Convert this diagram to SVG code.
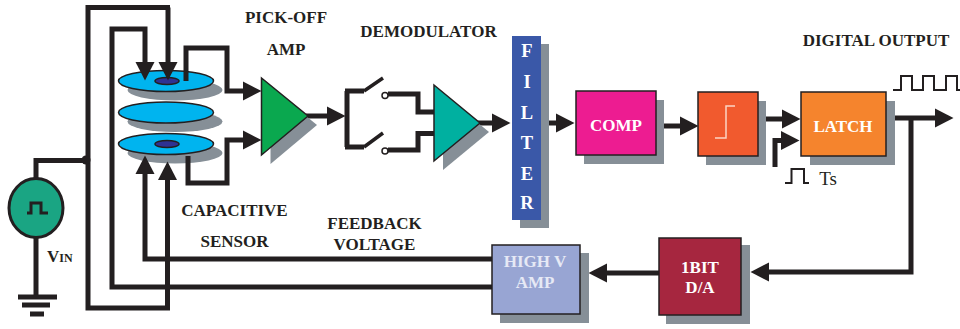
<svg xmlns="http://www.w3.org/2000/svg" width="960" height="329" viewBox="0 0 960 329">
<style>
.w{fill:none;stroke:#231f20;stroke-width:5;stroke-linejoin:miter}
.a{marker-end:url(#arr)}
.t{fill:none;stroke:#231f20;stroke-width:2}
.s{fill:#868f97}
.b{stroke:#231f20;stroke-width:1.5}
text{font-family:"Liberation Serif","Times New Roman",serif;font-weight:bold;font-size:17px;text-anchor:middle}
.l{fill:#231f20}
.i{fill:#fff}
.f{font-size:18.500px}
</style>
<defs>
<marker id="arr" markerUnits="userSpaceOnUse" markerWidth="19" markerHeight="20" refX="0" refY="10" orient="auto"><path d="M0,0.5L18.5,10L0,19.5Z" fill="#231f20"/></marker>
</defs>
<rect width="960" height="329" fill="#fff"/>
<g id="disks">
<ellipse class="s" cx="175" cy="90" rx="47.5" ry="10.5"/>
<ellipse class="s" cx="175" cy="121.5" rx="47.5" ry="10.5"/>
<ellipse class="s" cx="175" cy="153" rx="47.5" ry="10.5"/>
<ellipse cx="166" cy="81" rx="47.5" ry="10.5" fill="#00b4ef" class="b"/>
<ellipse cx="166" cy="112.5" rx="47.5" ry="10.5" fill="#00b4ef" class="b"/>
<ellipse cx="166" cy="144" rx="47.5" ry="10.5" fill="#00b4ef" class="b"/>
<ellipse cx="167" cy="81" rx="12" ry="3.5" fill="#2e3192" class="b"/>
<ellipse cx="167" cy="144" rx="12" ry="3.5" fill="#2e3192" class="b"/>
</g>
<g id="connectors">
<path class="w a" d="M168,7.500H88V308H167.500V180"/>
<path class="w" d="M88,7.500H170"/>
<path class="w a" d="M168,7.500V62"/>
<path class="w a" d="M492,287H112V29H145V62"/>
<path class="w a" d="M492,259H145V174"/>
<path class="w" d="M36,180V160.500H86"/>
<circle cx="86" cy="160" r="4.500" fill="#231f20"/>
<path class="w a" d="M186,81V48H227V91H243"/>
<path class="w a" d="M188,156V183H227V140H243"/>
<path class="w a" d="M306,116H327"/>
<path class="w" d="M347,91V147M345,91H364M345,147H364"/>
<path d="M364,91L383,78M364,147L383,133" fill="none" stroke="#231f20" stroke-width="3.500"/>
<circle cx="385" cy="95.500" r="3" fill="#fff" stroke="#231f20" stroke-width="1.500"/>
<circle cx="385" cy="151" r="3" fill="#fff" stroke="#231f20" stroke-width="1.500"/>
<path class="w" d="M388,94H418V112H434M388,150H418V133.500H434"/>
<path class="w a" d="M478,123H492"/>
<path class="w a" d="M541,123H556"/>
<path class="w a" d="M664,126H680"/>
<path class="w a" d="M766,119H782"/>
<path class="w a" d="M775,167V140.500H781"/>
<path class="w a" d="M894,118H935"/>
<path class="w a" d="M911,118V272H769"/>
<path class="w a" d="M659,273H607"/>
<path class="t" d="M785,183H791.500V169H804V183H809"/>
<path class="t" d="M893,90H901V76H912V90H923V76H934V90H946V76H957V90H960"/>
</g>
<g id="vin">
<ellipse cx="36" cy="208" rx="27" ry="29.500" fill="#1aa583" stroke="#231f20" stroke-width="3"/>
<path d="M27,213H31V203H41V213H48" fill="none" stroke="#231f20" stroke-width="3"/>
<path class="w" d="M36,237V296"/>
<path d="M18,297H57M22,305H50M30,314H44" fill="none" stroke="#231f20" stroke-width="5"/>
<text class="l" x="47" y="262" style="text-anchor:start">V<tspan font-size="12">IN</tspan></text>
</g>
<g id="pickoff-amp">
<path class="s" d="M270.500,87V164L317,125Z"/>
<path d="M261.500,78V155L308,116Z" fill="#0aa84f" class="b"/>
</g>
<g id="demod-amp">
<path class="s" d="M443,94V170L489,132Z"/>
<path d="M434,85V161L480,123Z" fill="#00b0a0" class="b"/>
</g>
<g id="filter">
<rect class="s" x="520" y="44" width="29" height="184"/>
<rect x="512" y="36" width="29" height="184" fill="#3a58a8"/>
<text class="i f" x="527" y="57">F</text>
<text class="i f" x="527" y="88">I</text>
<text class="i f" x="527" y="119">L</text>
<text class="i f" x="527" y="149">T</text>
<text class="i f" x="527" y="180">E</text>
<text class="i f" x="527" y="209">R</text>
</g>
<g id="comp">
<rect class="s" x="584" y="100" width="80" height="64"/>
<rect class="b" x="576" y="91" width="80" height="64" fill="#ed1c91"/>
<text class="i" x="616" y="131">COMP</text>
</g>
<g id="comparator-step">
<rect class="s" x="706" y="101" width="60" height="64"/>
<rect class="b" x="698" y="92" width="60" height="64" fill="#f15a2e"/>
<path d="M715,138H726V106H735" fill="none" stroke="#fbd5c5" stroke-width="1.500"/>
</g>
<g id="latch">
<rect class="s" x="810" y="101" width="85" height="64"/>
<rect class="b" x="801" y="92" width="85" height="64" fill="#f5842d"/>
<text class="i" x="843" y="132">LATCH</text>
</g>
<g id="high-v-amp">
<rect class="s" x="500" y="253" width="89" height="70"/>
<rect class="b" x="492" y="245" width="88" height="69" fill="#98a5d3"/>
<text x="535" y="267" fill="#e6e9f5">HIGH V</text>
<text x="535" y="288" fill="#e6e9f5">AMP</text>
</g>
<g id="dac">
<rect class="s" x="666" y="245" width="84" height="79"/>
<rect class="b" x="659" y="238" width="82" height="77" fill="#a6263f"/>
<text class="i" x="700" y="273">1BIT</text>
<text class="i" x="700" y="293">D/A</text>
</g>
<g id="labels">
<text class="l" x="286" y="23">PICK-OFF</text>
<text class="l" x="286" y="55">AMP</text>
<text class="l" x="428.500" y="37">DEMODULATOR</text>
<text class="l" x="876" y="46">DIGITAL OUTPUT</text>
<text class="l" x="234.500" y="216">CAPACITIVE</text>
<text class="l" x="234.500" y="247">SENSOR</text>
<text class="l" x="374.500" y="229">FEEDBACK</text>
<text class="l" x="374.500" y="250">VOLTAGE</text>
<text class="l" x="828" y="185" style="font-weight:normal;font-size:19px">Ts</text>
</g>
</svg>
